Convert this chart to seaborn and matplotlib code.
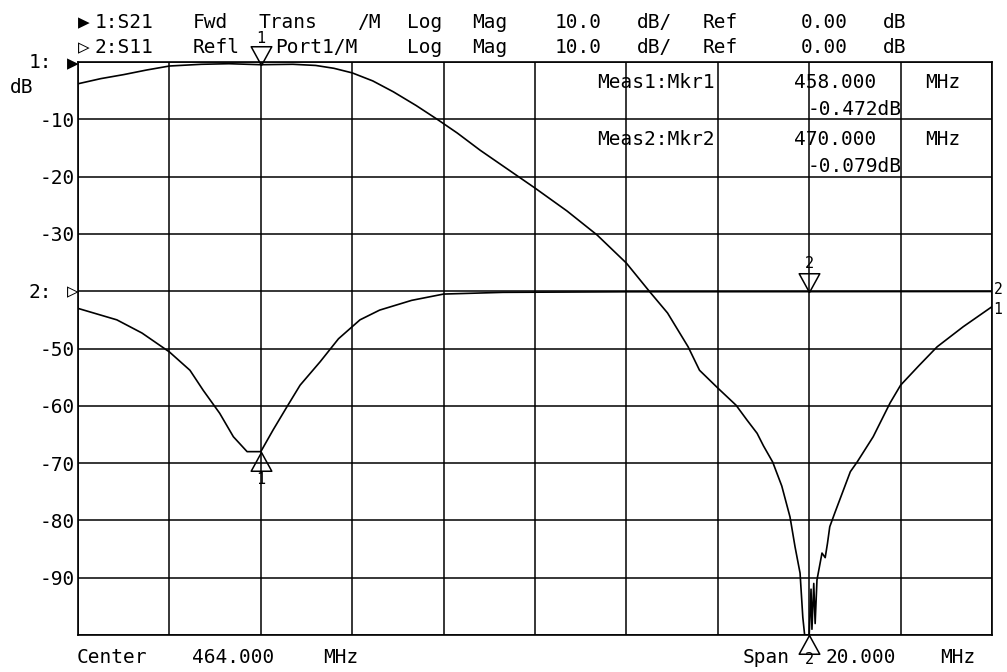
import re
import numpy as np
import pandas as pd
import matplotlib
matplotlib.use("Agg")
import matplotlib.pyplot as plt
import seaborn as sns

# ---------------- data ----------------
CENTER_MHZ = 464.0
SPAN_MHZ = 20.0
SCALE_DB = 10.0
REF_DB = 0.0
REF2_POS_DB = -40.0   # screen position of trace 2 reference line

s21_freq = [454.0, 454.5, 455.0, 455.5, 456.0, 456.7, 457.3, 458.0, 458.7, 459.2,
            459.6, 460.0, 460.45, 460.9, 461.4, 461.86, 462.3, 462.8, 463.4, 464.0,
            464.7, 465.36, 466.0, 466.5, 466.9, 467.35, 467.6, 468.0, 468.4, 468.64,
            468.86, 469.0, 469.2, 469.4, 469.58, 469.69, 469.8, 469.86, 469.9, 470.0,
            470.04, 470.06, 470.1, 470.13, 470.17, 470.28, 470.35, 470.4, 470.45, 470.56,
            470.9, 471.05, 471.4, 471.77, 472.0, 472.4, 472.8, 473.37, 474.0]
s21_db = [-3.8, -2.9, -2.2, -1.4, -0.7, -0.4, -0.3, -0.47, -0.4, -0.6,
          -1.1, -1.9, -3.3, -5.2, -7.6, -10.0, -12.4, -15.4, -18.7, -22.0,
          -26.0, -30.2, -35.1, -40.0, -43.8, -49.7, -53.8, -56.9, -59.9, -62.5,
          -64.8, -67.0, -69.8, -74.0, -79.4, -84.6, -89.2, -96.9, -100.0, -100.0,
          -92.0, -99.0, -91.0, -98.0, -90.4, -85.7, -86.5, -84.0, -81.1, -78.7,
          -71.5, -69.8, -65.4, -59.5, -56.4, -53.0, -49.7, -46.2, -42.7]

s11_freq = [454.0, 454.85, 455.4, 456.0, 456.45, 456.74, 457.1, 457.4, 457.7, 458.0,
            458.27, 458.57, 458.86, 459.3, 459.7, 460.17, 460.6, 461.3, 462.0, 463.3,
            466.0, 470.0, 474.0]
s11_db = [-3.0, -5.0, -7.3, -10.6, -13.8, -17.3, -21.3, -25.4, -28.0, -28.0,
          -24.2, -20.2, -16.4, -12.3, -8.3, -5.0, -3.3, -1.6, -0.5, -0.2,
          -0.1, -0.079, -0.05]

marker_freqs = [458.0, 470.0]
marker_readouts = [-0.472, -0.079]

header1 = "▶1:S21 Fwd Trans /M Log Mag  10.0 dB/ Ref   0.00 dB"
header2 = "▷2:S11 Refl Port1/M Log Mag  10.0 dB/ Ref   0.00 dB"

# ---------------- figure ----------------
W, H = 1007, 672
sns.set_theme(style="white")
MONO = ["DejaVu Sans Mono", "DejaVu Sans"]
plt.rcParams["font.family"] = MONO
plt.rcParams["text.color"] = "black"
plt.rcParams["ytick.color"] = "black"
plt.rcParams["ytick.labelcolor"] = "black"

fig = plt.figure(figsize=(W / 100, H / 100), dpi=100)
ax = fig.add_axes([78 / W, 1 - 635 / H, (992 - 78) / W, (635 - 62) / H])

fmin, fmax = CENTER_MHZ - SPAN_MHZ / 2, CENTER_MHZ + SPAN_MHZ / 2
df1 = pd.DataFrame({"f": s21_freq, "v": s21_db})
df2 = pd.DataFrame({"f": s11_freq, "v": np.array(s11_db) + REF2_POS_DB})

sns.lineplot(data=df1, x="f", y="v", ax=ax, color="black", lw=1.2,
             estimator=None, sort=False, zorder=3)
sns.lineplot(data=df2, x="f", y="v", ax=ax, color="black", lw=1.2,
             estimator=None, sort=False, zorder=3)

ax.set_xlim(fmin, fmax)
ax.set_ylim(REF_DB - 10 * SCALE_DB, REF_DB)
ax.set_xticks(np.arange(fmin, fmax + 0.01, SPAN_MHZ / 10))
ax.set_xticklabels([])
yt = np.arange(-100, 1, 10)
ax.set_yticks(yt)
ax.set_yticklabels(["" if v in (-100, 0, -40) else f"{v:d}" for v in yt],
                   fontsize=14, family=MONO, color="black")
ax.tick_params(axis="both", length=0, pad=2)
ax.set_xlabel("")
ax.set_ylabel("")
ax.grid(True, color="black", lw=1.1)
for sp in ax.spines.values():
    sp.set_color("black")
    sp.set_linewidth(1.2)


def px(x, y):
    return x / W, 1 - y / H


PITCH = 16.43


def mono_line(s, x0, ybase, size=14):
    for m in re.finditer(r"[▶▷]|[^\s▶▷]+", s):
        fig.text(*px(x0 + m.start() * PITCH, ybase), m.group(), fontsize=size,
                 ha="left", va="baseline", family=MONO, color="black")


mono_line(header1, 78, 28)
mono_line(header2, 78, 53)

# marker readouts
for i, (mf, mr) in enumerate(zip(marker_freqs, marker_readouts)):
    yb = 88 + i * 57
    mono_line(f"Meas{i + 1}:Mkr{i + 1}  {mf:.3f} MHz", 597, yb)
    fig.text(*px(808, yb + 27), f"{mr:.3f}dB", fontsize=14, ha="left",
             va="baseline", family=MONO, color="black")

mono_line(f"Center {CENTER_MHZ:.3f} MHz", 77, 663)
mono_line(f"Span {SPAN_MHZ:.3f} MHz", 743, 663)

# left reference labels
fig.text(*px(52, 68), "1:", fontsize=14, ha="right", va="baseline", family=MONO)
fig.text(*px(79, 69), "▶", fontsize=14, ha="right", va="baseline", family=MONO)
fig.text(*px(10, 93), "dB", fontsize=14, ha="left", va="baseline", family=MONO)
fig.text(*px(52, 298), "2:", fontsize=14, ha="right", va="baseline", family=MONO)
fig.text(*px(79, 297), "▷", fontsize=14, ha="right", va="baseline", family=MONO)

# markers
TRI_DOWN = [(0, 0), (-0.55, 1), (0.55, 1), (0, 0)]
TRI_UP = [(0, 0), (-0.55, -1), (0.55, -1), (0, 0)]
s21_at = np.interp(marker_freqs, s21_freq, s21_db)
s11_at = np.interp(marker_freqs, s11_freq, s11_db) + REF2_POS_DB
marker_specs = [
    (marker_freqs[0], s21_at[0], TRI_DOWN, "1", 19),
    (marker_freqs[0], s11_at[0], TRI_UP, "1", -20),
    (marker_freqs[1], s11_at[1], TRI_DOWN, "2", 20),
    (marker_freqs[1], s21_at[1], TRI_UP, "2", -18),
]
for f, v, tri, lab, off in marker_specs:
    ax.plot([f], [v], ls="none", marker=tri, ms=27, mfc="none", mec="black",
            mew=1.1, clip_on=False, zorder=5)
    ax.annotate(lab, (f, v), xytext=(0, off), textcoords="offset points",
                ha="center", va="center", fontsize=11, family=MONO)

# trace end labels at right edge
ax.annotate("2", (fmax, s11_db[-1] + REF2_POS_DB), xytext=(1, 1.5),
            textcoords="offset points", ha="left", va="center", fontsize=10.5,
            family=MONO, annotation_clip=False)
ax.annotate("1", (fmax, s21_db[-1]), xytext=(1, -2),
            textcoords="offset points", ha="left", va="center", fontsize=10.5,
            family=MONO, annotation_clip=False)

fig.savefig("out.png", dpi=100, facecolor="white")
